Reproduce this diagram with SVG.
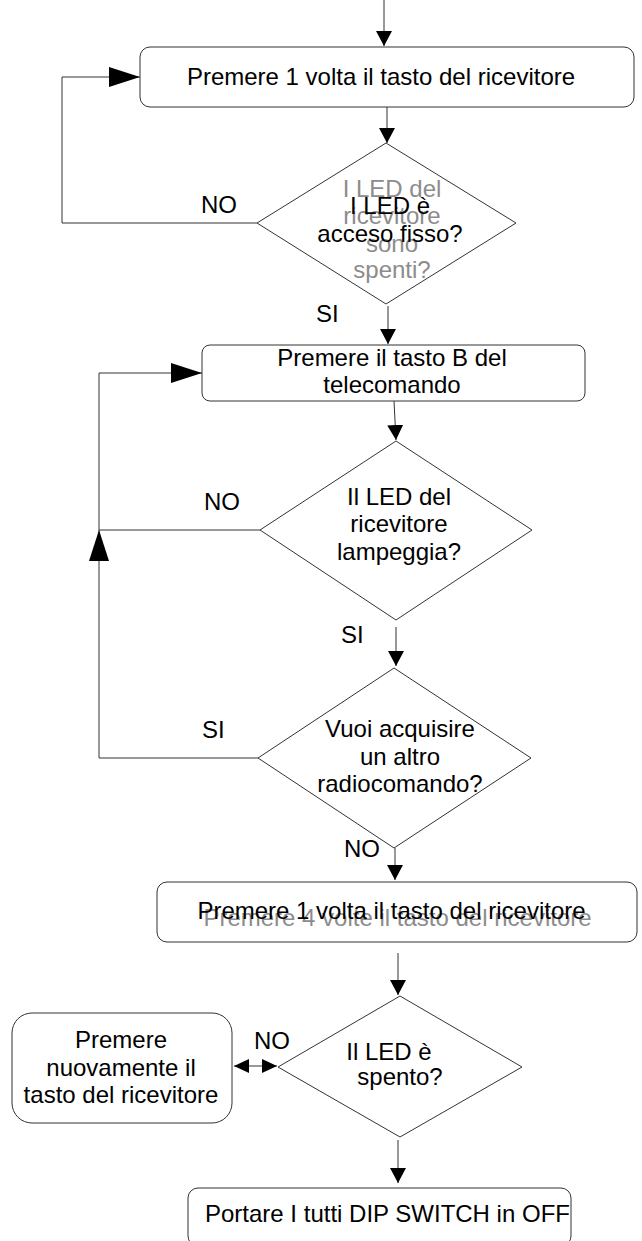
<svg xmlns="http://www.w3.org/2000/svg" width="642" height="1241" viewBox="0 0 642 1241">
  <style>
    .box { fill: #ffffff; stroke: #333333; stroke-width: 1; }
    .dec { fill: #ffffff; stroke: #333333; stroke-width: 1; }
    .conn { fill: none; stroke: #333333; stroke-width: 1; }
    text { font-family: "Liberation Sans", Arial, sans-serif; font-size: 24px; fill: #000000; }
    .c { text-anchor: middle; }
    .g { fill: #8c8c8c; }
  </style>
  <defs>
    <marker id="arr" markerUnits="userSpaceOnUse" markerWidth="16" markerHeight="16" refX="15" refY="8" orient="auto">
      <path d="M0,0 L15,8 L0,16 Z" fill="#000000"/>
    </marker>
    <marker id="big" markerUnits="userSpaceOnUse" markerWidth="32" markerHeight="22" refX="31" refY="11" orient="auto">
      <path d="M0,1 L31,11 L0,21 Z" fill="#000000"/>
    </marker>
    <marker id="sm" markerUnits="userSpaceOnUse" markerWidth="16" markerHeight="16" refX="15" refY="7" orient="auto-start-reverse">
      <path d="M0,0 L15,7 L0,14 Z" fill="#000000"/>
    </marker>
  </defs>

  <g id="connectors">
    <line class="conn" x1="384" y1="0" x2="384" y2="46" marker-end="url(#arr)"/>
    <line class="conn" x1="387" y1="107" x2="387" y2="143" marker-end="url(#arr)"/>
    <polyline class="conn" points="257,223 62,223 62,77 140,77" marker-end="url(#big)"/>
    <line class="conn" x1="388" y1="306" x2="388" y2="344" marker-end="url(#arr)"/>
    <line class="conn" x1="394" y1="401" x2="396" y2="440" marker-end="url(#arr)"/>
    <polyline class="conn" points="260,530 99,530 99,373 202,373" marker-end="url(#big)"/>
    <line class="conn" x1="396" y1="627" x2="396" y2="666" marker-end="url(#arr)"/>
    <polyline class="conn" points="258,758 99,758 99,530" marker-end="url(#big)"/>
    <line class="conn" x1="395" y1="848" x2="395" y2="880" marker-end="url(#arr)"/>
    <line class="conn" x1="398" y1="953" x2="398" y2="995" marker-end="url(#arr)"/>
    <line class="conn" x1="234" y1="1066" x2="277" y2="1066" marker-start="url(#sm)" marker-end="url(#sm)"/>
    <line class="conn" x1="398" y1="1140" x2="398" y2="1183" marker-end="url(#arr)"/>
    <text x="201" y="213">NO</text>
    <text x="316" y="322">SI</text>
    <text x="204" y="510">NO</text>
    <text x="341" y="643">SI</text>
    <text x="202" y="738">SI</text>
    <text x="344" y="857">NO</text>
    <text x="254" y="1049">NO</text>
  </g>

  <g id="box1">
    <rect class="box" x="140" y="47" width="494" height="60" rx="10"/>
    <text class="c" x="381" y="85">Premere 1 volta il tasto del ricevitore</text>
  </g>

  <g id="dec1">
    <polygon class="dec" points="386,143 516,223 386,304 257,223"/>
    <text class="c g" x="392" y="197">I LED del</text>
    <text class="c g" x="392" y="224">ricevitore</text>
    <text class="c g" x="392" y="252">sono</text>
    <text class="c g" x="392" y="278">spenti?</text>
    <text class="c" x="390" y="214">I LED è</text>
    <text class="c" x="390" y="242">acceso fisso?</text>
  </g>

  <g id="box2">
    <rect class="box" x="202" y="345" width="383" height="56" rx="8"/>
    <text class="c" x="392" y="366">Premere il tasto B del</text>
    <text class="c" x="392" y="393">telecomando</text>
  </g>

  <g id="dec2">
    <polygon class="dec" points="396,441 532,530 396,620 260,530"/>
    <text class="c" x="399" y="505">Il LED del</text>
    <text class="c" x="399" y="532">ricevitore</text>
    <text class="c" x="399" y="560">lampeggia?</text>
  </g>

  <g id="dec3">
    <polygon class="dec" points="394,668 531,758 394,848 258,758"/>
    <text class="c" x="400" y="737">Vuoi acquisire</text>
    <text class="c" x="400" y="765">un altro</text>
    <text class="c" x="400" y="792">radiocomando?</text>
  </g>

  <g id="box3">
    <rect class="box" x="157" y="882" width="480" height="60" rx="10"/>
    <text class="c g" x="397.5" y="926">Premere 4 volte il tasto del ricevitore</text>
    <text class="c" x="391.5" y="919">Premere 1 volta il tasto del ricevitore</text>
  </g>

  <g id="dec4">
    <polygon class="dec" points="400,996 522,1067 400,1137 278,1067"/>
    <text class="c" x="389" y="1060">Il LED è</text>
    <text class="c" x="400" y="1085">spento?</text>
  </g>

  <g id="box4">
    <rect class="box" x="12" y="1013" width="220" height="110" rx="20"/>
    <text class="c" x="121" y="1048">Premere</text>
    <text class="c" x="121" y="1076">nuovamente il</text>
    <text class="c" x="121" y="1103">tasto del ricevitore</text>
  </g>

  <g id="box5">
    <rect class="box" x="188" y="1188" width="383" height="58" rx="10"/>
    <text x="205" y="1222">Portare I tutti DIP SWITCH in OFF</text>
  </g>
</svg>
